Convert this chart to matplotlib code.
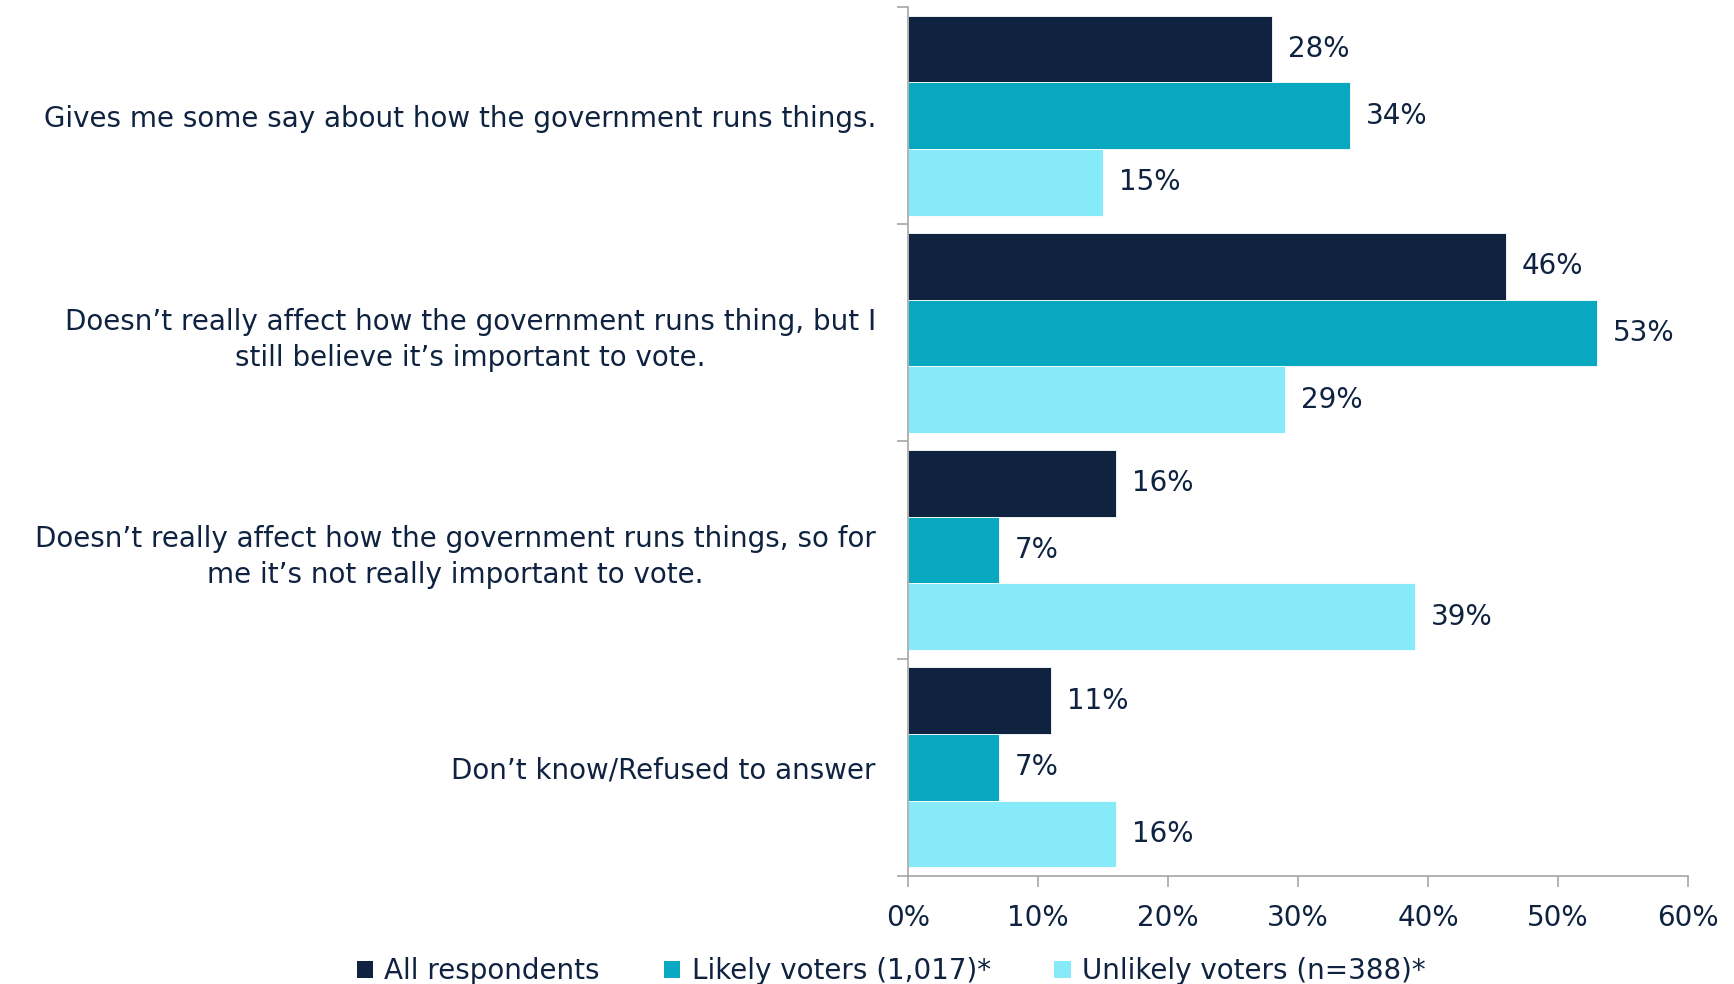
import numpy as np
import matplotlib.pyplot as plt
from matplotlib.patches import Patch

# survey answers (top to bottom)
categories = [
    "Gives me some say about how the government runs things.",
    "Doesn\u2019t really affect how the government runs thing, but I\nstill believe it\u2019s important to vote.",
    "Doesn\u2019t really affect how the government runs things, so for\nme it\u2019s not really important to vote.",
    "Don\u2019t know/Refused to answer",
]
series_names = ["All respondents", "Likely voters (1,017)*", "Unlikely voters (n=388)*"]
all_resp = [28, 46, 16, 11]
likely = [34, 53, 7, 7]
unlikely = [15, 29, 39, 16]
x_ticks = [0, 10, 20, 30, 40, 50, 60]

colors = ["#0F2341", "#08A8C0", "#87EAF8"]
text_col = "#0F2341"
fs = 20

plt.rcParams["font.family"] = ["DejaVu Sans"]

fig = plt.figure(figsize=(17.34, 9.84), dpi=100)
ax = fig.add_axes([0.5236, 0.1098, 0.4499, 0.8831])

y = np.arange(len(categories))
h = 0.307
for i, (vals, c) in enumerate(zip([all_resp, likely, unlikely], colors)):
    pos = y + (i - 1) * h
    ax.barh(pos, vals, height=h, color=c, edgecolor="white", linewidth=0.6)
    for p, v in zip(pos, vals):
        ax.text(v + 1.2, p, f"{v}%", va="center", ha="left", fontsize=fs, color=text_col)

ax.set_xlim(0, 60)
ax.set_ylim(3.5, -0.5)
ax.set_xticks(x_ticks)
ax.set_xticklabels([f"{t}%" for t in x_ticks], fontsize=fs, color=text_col)

# boundary ticks (no labels), labels on minor ticks at the centres
ax.set_yticks(np.arange(-0.5, 4, 1))
ax.set_yticklabels([])
ax.set_yticks(y, minor=True)
ax.set_yticklabels(categories, minor=True, fontsize=fs, color=text_col,
                   multialignment="center", linespacing=1.35)
ax.tick_params(axis="y", which="minor", length=0, pad=23)
ax.tick_params(axis="y", which="major", length=8, color="#A6A6A6", width=1.2)
ax.tick_params(axis="x", length=8, color="#A6A6A6", width=1.2, pad=12)

for s in ["top", "right"]:
    ax.spines[s].set_visible(False)
for s in ["left", "bottom"]:
    ax.spines[s].set_color("#A6A6A6")
    ax.spines[s].set_linewidth(1.2)

handles = [Patch(facecolor=c, edgecolor="none") for c in colors]
fig.legend(handles, series_names, loc="center", bbox_to_anchor=(0.514, 0.013),
           ncol=3, frameon=False, fontsize=fs, handlelength=0.6, handleheight=0.6,
           handletextpad=0.4, columnspacing=2.3, labelcolor=text_col)

fig.savefig("out.png", dpi=100)
